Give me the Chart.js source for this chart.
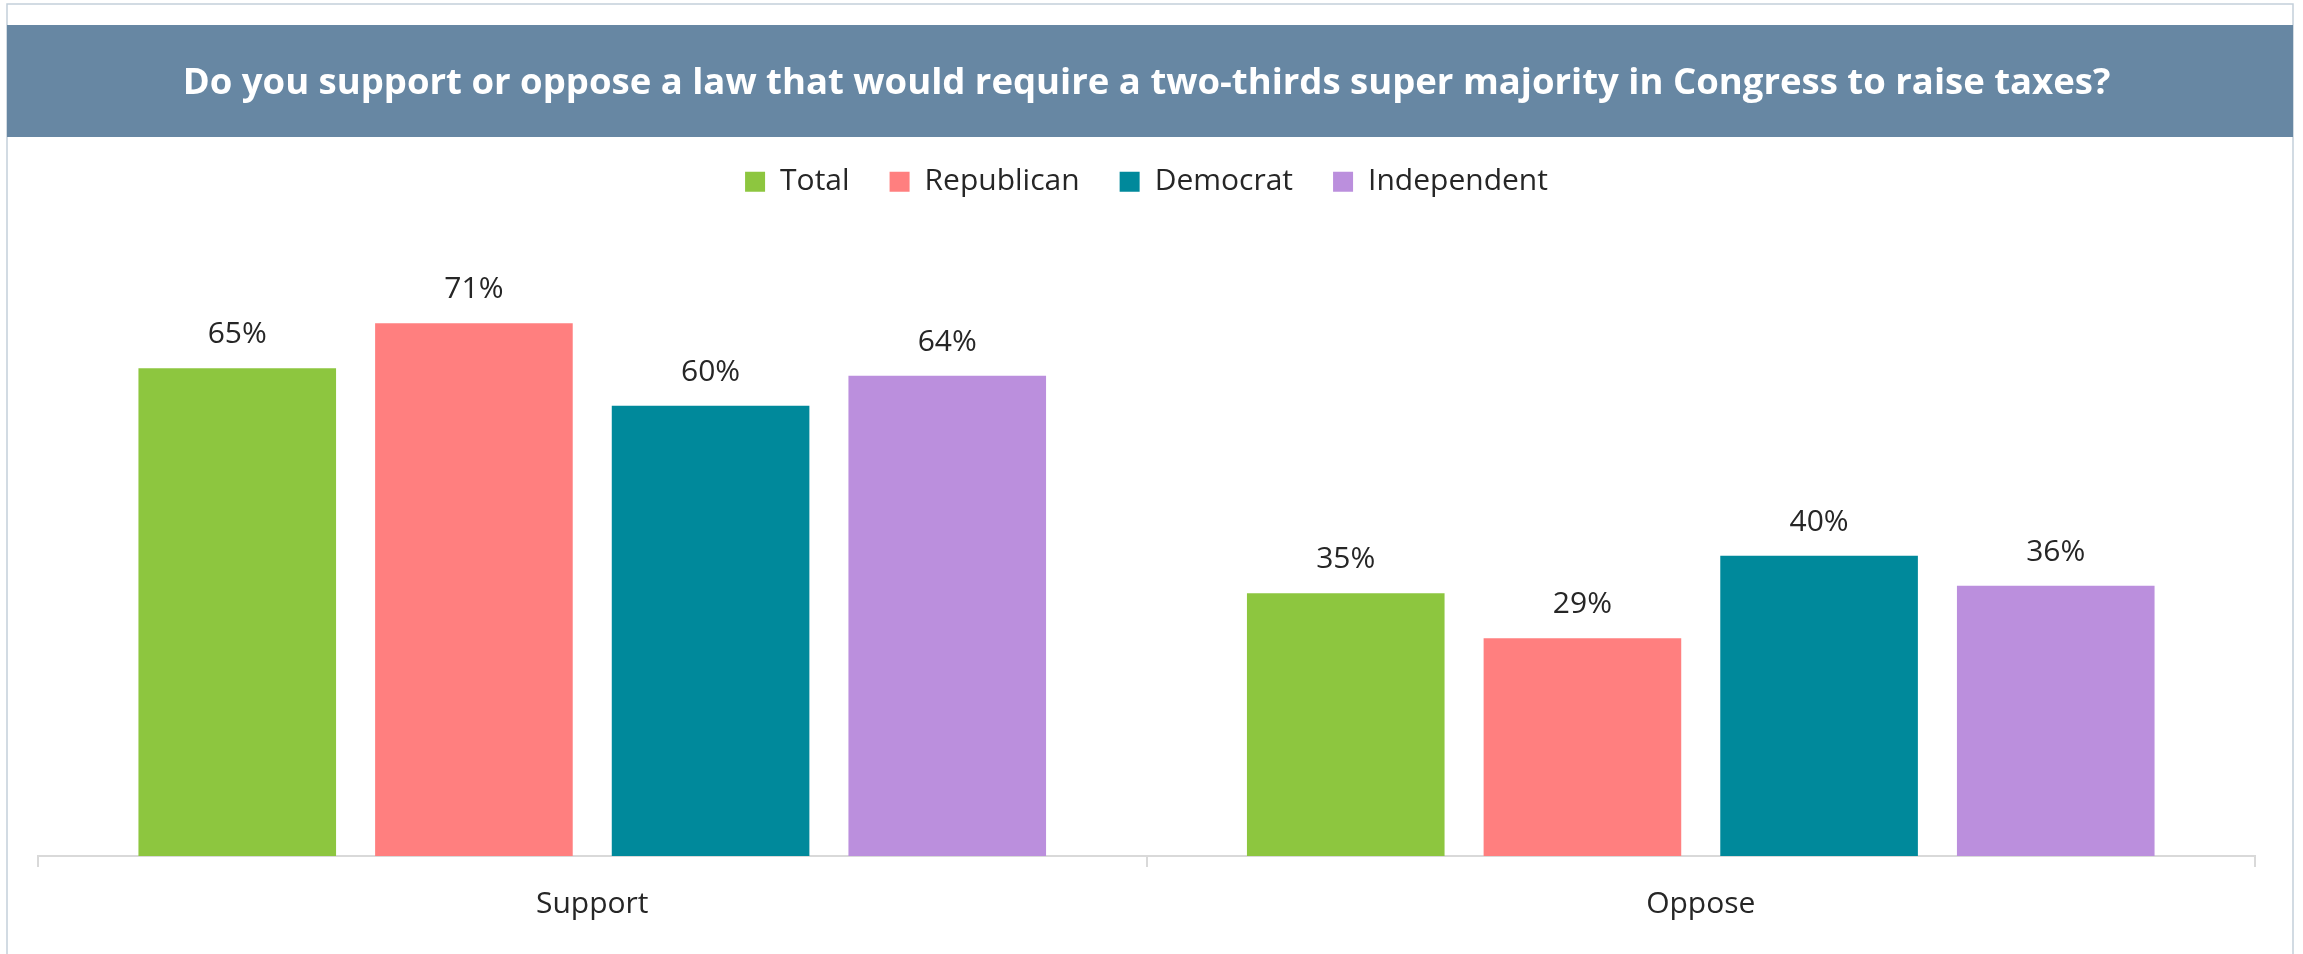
<!DOCTYPE html>
<html>
<head>
<meta charset="utf-8">
<script src="https://cdn.jsdelivr.net/npm/chart.js@4.4.1/dist/chart.umd.min.js"></script>
<style>
  html, body { margin: 0; padding: 0; background: #ffffff; }
  #wrap { position: relative; width: 2303px; height: 954px; }
</style>
</head>
<body>
<div id="wrap"><canvas id="c" width="2303" height="954"></canvas></div>
<script>
const titleText = "Do you support or oppose a law that would require a two-thirds super majority in Congress to raise taxes?";
const categories = ["Support", "Oppose"];
const seriesNames = ["Total", "Republican", "Democrat", "Independent"];
const totalValues = [65, 35];
const republicanValues = [71, 29];
const democratValues = [60, 40];
const independentValues = [64, 36];
const seriesColors = ["#8DC63F", "#FF7F7F", "#00899B", "#BB8FDD"];

const FONT = "'Open Sans', 'Noto Sans', sans-serif";
const TEXT = "#262626";

const framePlugin = {
  id: 'frame',
  beforeDraw(chart) {
    const ctx = chart.ctx;
    ctx.save();
    ctx.fillStyle = '#ffffff';
    ctx.fillRect(0, 0, chart.width, chart.height);
    ctx.strokeStyle = '#C3CFDA';
    ctx.lineWidth = 1.5;
    ctx.strokeRect(7, 4, 2286, 1000);
    ctx.fillStyle = '#6787A3';
    ctx.fillRect(7, 25, 2286, 112);
    ctx.restore();
  }
};

const labelPlugin = {
  id: 'valueLabels',
  afterDatasetsDraw(chart) {
    const ctx = chart.ctx;
    ctx.save();
    ctx.font = "30px " + FONT;
    ctx.fillStyle = TEXT;
    ctx.textAlign = 'center';
    ctx.textBaseline = 'alphabetic';
    chart.data.datasets.forEach((ds, i) => {
      chart.getDatasetMeta(i).data.forEach((bar, j) => {
        ctx.fillText(ds.data[j] + '%', bar.x, bar.y - 25);
      });
    });
    ctx.restore();
  }
};

const allValues = [totalValues, republicanValues, democratValues, independentValues];

new Chart(document.getElementById('c'), {
  type: 'bar',
  data: {
    labels: categories,
    datasets: seriesNames.map((name, i) => ({
      label: name,
      data: allValues[i],
      backgroundColor: seriesColors[i],
      borderWidth: 0,
      categoryPercentage: 0.854,
      barPercentage: 0.835
    }))
  },
  options: {
    responsive: false,
    animation: false,
    devicePixelRatio: 1,
    layout: { padding: { left: 38, right: 48, top: 0, bottom: 13 } },
    plugins: {
      title: {
        display: true,
        text: titleText,
        color: '#ffffff',
        font: { family: FONT, size: 36.5, weight: 'bold' },
        padding: { top: 62, bottom: 21 }
      },
      legend: {
        display: true,
        position: 'top',
        labels: {
          boxWidth: 20,
          boxHeight: 20,
          padding: 40,
          color: TEXT,
          font: { family: FONT, size: 30 }
        }
      },
      tooltip: { enabled: false }
    },
    scales: {
      x: {
        offset: true,
        grid: {
          offset: true,
          drawOnChartArea: false,
          drawTicks: true,
          tickLength: 11,
          color: '#D9D9D9',
          lineWidth: 2
        },
        border: { display: true, color: '#D9D9D9', width: 2 },
        ticks: {
          color: TEXT,
          padding: 19,
          font: { family: FONT, size: 30 }
        }
      },
      y: {
        display: false,
        min: 0,
        max: 86.5
      }
    }
  },
  plugins: [framePlugin, labelPlugin]
});
</script>
</body>
</html>
